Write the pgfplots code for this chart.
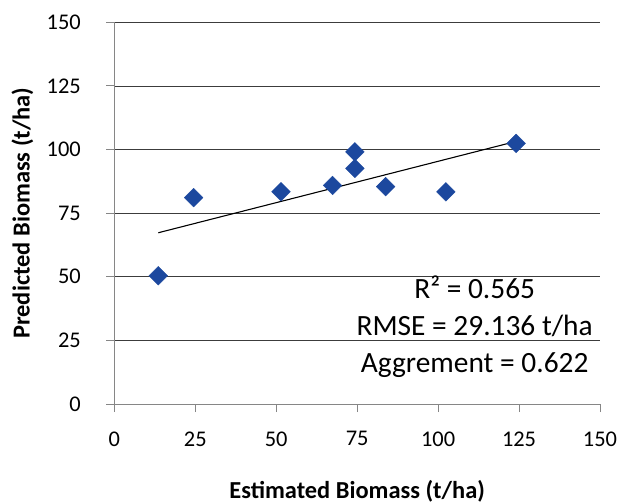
\documentclass[border=0pt]{standalone}
\usepackage{fontspec}
\setmainfont{Carlito}
\usepackage{pgfplots}
\pgfplotsset{compat=1.18}

\definecolor{markblue}{RGB}{28,72,158}
\definecolor{axisgray}{RGB}{134,134,134}
\definecolor{gridgray}{RGB}{60,60,60}

\begin{document}
\begin{tikzpicture}
\path[use as bounding box] (-114.3bp,-100bp) rectangle (517.7bp,404bp);
\begin{axis}[
  scale only axis,
  width=485.7bp, height=381.7bp,
  at={(0,0)}, anchor=south west,
  xmin=0, xmax=150, ymin=0, ymax=150,
  xtick={0,25,...,150}, ytick={0,25,...,150},
  axis x line*=bottom, axis y line*=left,
  axis line style={axisgray, line width=1bp},
  tick align=outside, major tick length=8bp,
  tick style={axisgray, line width=1bp},
  ymajorgrids, grid style={gridgray, line width=0.8bp},
  /pgf/number format/assume math mode=true,
  ticklabel style={font=\fontsize{22.5}{26}\selectfont},
  xticklabel style={yshift=-16bp},
  yticklabel style={xshift=-22bp},
  clip=false,
]
% regression line
\addplot[black, line width=1.1bp] coordinates {(13.6,67.3) (124.1,103.2)};
% observations
\addplot[only marks, mark=square*, mark size=6.6bp, mark options={rotate=45}, color=markblue] coordinates {
  (13.6,50.4) (24.5,81.1) (51.5,83.4) (67.4,85.9) (74.3,99.1)
  (74.3,92.6) (83.8,85.4) (102.4,83.4) (124.1,102.4)
};
\node[align=center, font=\fontsize{29.5}{37}\selectfont] at (axis cs:111.3,30.4)
  {R² = 0.565\\RMSE = 29.136 t/ha\\Aggrement = 0.622};
\node[font=\bfseries\fontsize{24.5}{29}\selectfont] at (rel axis cs:0.5,0) [yshift=-87bp] {Estimated Biomass (t/ha)};
\node[font=\bfseries\fontsize{24.5}{29}\selectfont, xshift=-92bp, rotate=90] at (rel axis cs:0,0.5) {Predicted Biomass (t/ha)};
\end{axis}
\end{tikzpicture}
\end{document}
